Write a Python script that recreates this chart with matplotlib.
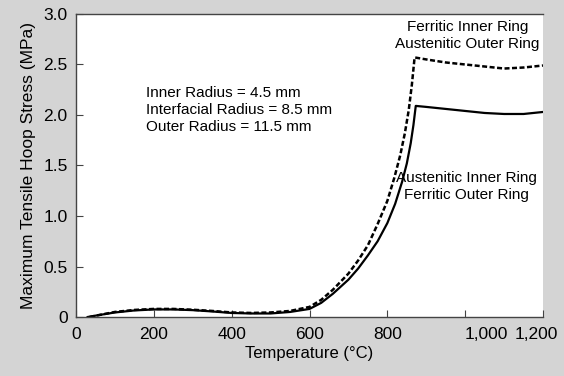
import matplotlib
matplotlib.use("Agg")
import matplotlib.pyplot as plt
import matplotlib.transforms as mtransforms

# temperature (C) / max tensile hoop stress (MPa)
temp_aust_inner = [30, 60, 100, 150, 200, 250, 300, 350, 400, 450, 500, 550, 600, 630, 660,
                   700, 725, 750, 775, 800, 820, 838, 850, 860, 867, 873,
                   900, 950, 1000, 1050, 1100, 1150, 1200]
stress_aust_inner = [0.0, 0.02, 0.045, 0.065, 0.075, 0.075, 0.068, 0.055, 0.04, 0.035, 0.035, 0.05, 0.08, 0.14, 0.23,
                     0.37, 0.48, 0.61, 0.75, 0.93, 1.12, 1.34, 1.52, 1.72, 1.90, 2.09,
                     2.08, 2.06, 2.04, 2.02, 2.01, 2.01, 2.03]

temp_ferr_inner = [35, 60, 100, 150, 200, 250, 300, 350, 400, 450, 500, 550, 600, 630, 660,
                   700, 725, 750, 775, 800, 818, 833, 845, 855, 863, 870,
                   900, 950, 1000, 1050, 1100, 1150, 1200]
stress_ferr_inner = [0.0, 0.02, 0.05, 0.07, 0.08, 0.08, 0.072, 0.06, 0.045, 0.04, 0.045, 0.06, 0.10, 0.17, 0.27,
                     0.43, 0.56, 0.71, 0.92, 1.15, 1.38, 1.60, 1.82, 2.05, 2.30, 2.57,
                     2.55, 2.52, 2.50, 2.48, 2.46, 2.47, 2.49]

xticks = [0, 200, 400, 600, 800, 1000, 1200]
xtick_labels = ["0", "200", "400", "600", "800", "1,000", "1,200"]
yticks = [0, 0.5, 1.0, 1.5, 2.0, 2.5, 3.0]
ytick_labels = ["0", "0.5", "1.0", "1.5", "2.0", "2.5", "3.0"]

plt.rcParams['font.family'] = ['Liberation Sans', 'DejaVu Sans']

bg = '#d4d4d4'
fig = plt.figure(figsize=(5.64, 3.76), dpi=100, facecolor=bg)
ax = fig.add_axes([0.1348, 0.1569, 0.9628 - 0.1348, 0.9628 - 0.1569])
ax.set_facecolor('white')

ax.plot(temp_aust_inner, stress_aust_inner, color='black', lw=1.6)
ax.plot(temp_ferr_inner, stress_ferr_inner, color='black', lw=1.8, linestyle=(0, (2, 1)))

ax.set_xlim(0, 1200)
ax.set_ylim(0, 3.0)
ax.set_xticks(xticks)
ax.set_xticklabels(xtick_labels)
ax.set_yticks(yticks)
ax.set_yticklabels(ytick_labels)
ax.tick_params(direction='in', length=5, width=0.8, color='#444444', labelsize=12.5)
ax.tick_params(axis='x', pad=7)
ax.tick_params(axis='y', pad=6)

# the last two x labels sit off their ticks in the original
labels = ax.get_xticklabels()
labels[5].set_transform(labels[5].get_transform() + mtransforms.ScaledTranslation(0.21, 0, fig.dpi_scale_trans))
labels[6].set_transform(labels[6].get_transform() + mtransforms.ScaledTranslation(-0.07, 0, fig.dpi_scale_trans))

for s in ['left', 'bottom', 'top']:
    ax.spines[s].set_color('#444444')
    ax.spines[s].set_linewidth(1.0)
ax.spines['right'].set_visible(False)

ax.set_xlabel('Temperature (°C)', fontsize=12, labelpad=3)
ax.set_ylabel('Maximum Tensile Hoop Stress (MPa)', fontsize=12.5, labelpad=5)

ax.text(180, 2.05, "Inner Radius = 4.5 mm\nInterfacial Radius = 8.5 mm\nOuter Radius = 11.5 mm",
        fontsize=11, ha='left', va='center', linespacing=1.25)
ax.text(1006, 2.79, "Ferritic Inner Ring\nAustenitic Outer Ring",
        fontsize=11, ha='center', va='center', linespacing=1.25)
ax.text(1003, 1.295, "Austenitic Inner Ring\nFerritic Outer Ring",
        fontsize=11, ha='center', va='center', linespacing=1.25)

fig.savefig('out.png', dpi=100, facecolor=bg)
